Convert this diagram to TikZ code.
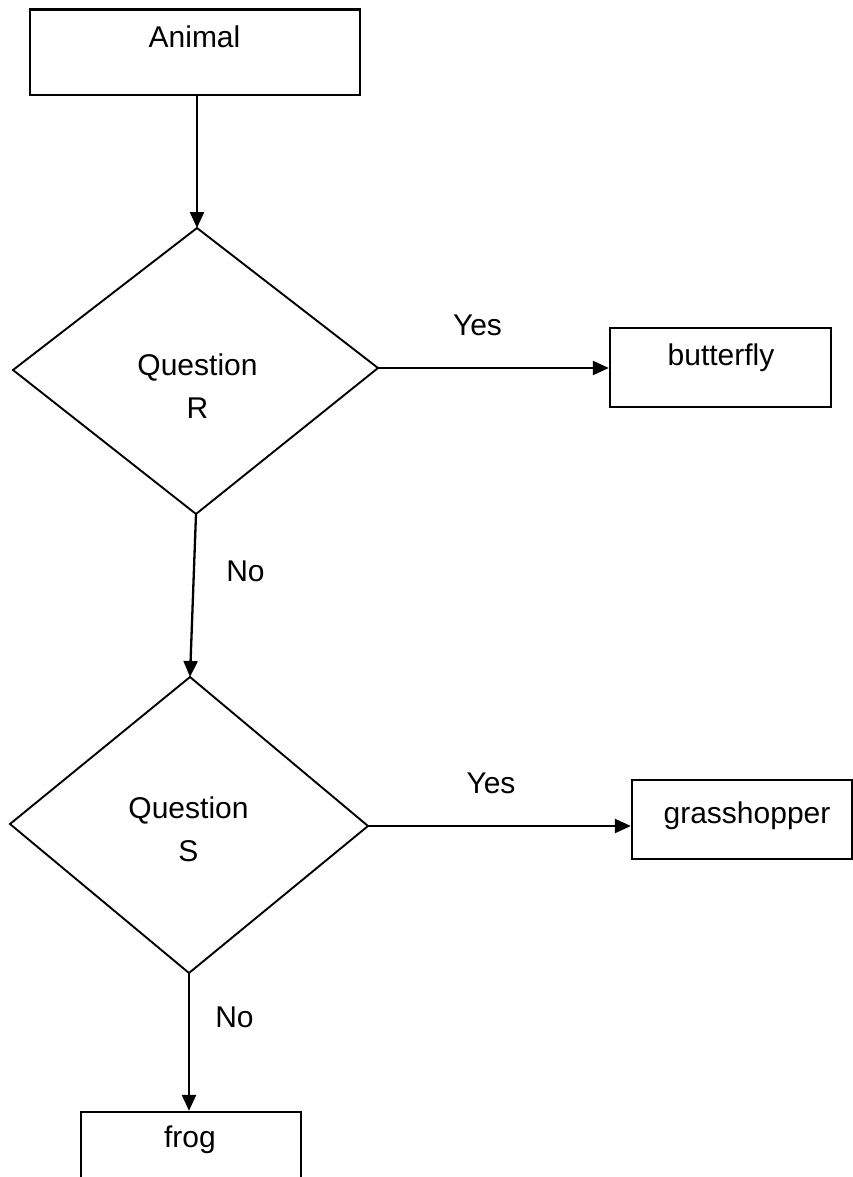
\documentclass[tikz,border=0pt]{standalone}
\usepackage{fontspec}
\setmainfont{Liberation Sans}
\usetikzlibrary{arrows.meta}
\begin{document}
\begin{tikzpicture}[x=1pt,y=-1pt,
  box/.style={draw, line width=2.3pt, inner sep=0pt, rectangle},
  lbl/.style={font=\fontsize{30}{36}\selectfont, inner sep=0pt, anchor=base},
  arr/.style={draw, line width=2.3pt, -{Triangle[length=16pt,width=14pt]}},
  dia/.style={draw, line width=1.9pt, line join=miter}]
\useasboundingbox (0,0) rectangle (853,1177);
\clip (0,0) rectangle (853,1177);
\fill[white] (0,0) rectangle (853,1177);

% boxes
\node[box, minimum width=330pt, minimum height=85.5pt] (animal) at (195,52.25) {};
\node[box, minimum width=221pt, minimum height=79pt] (butterfly) at (720.5,367.5) {};
\node[box, minimum width=220pt, minimum height=79pt] (grass) at (742,819.5) {};
\node[box, minimum width=220pt, minimum height=84pt] (frog) at (191,1154) {};

% diamond R
\coordinate (rT) at (197,228);
\coordinate (rR) at (378,368);
\coordinate (rB) at (196,514);
\coordinate (rL) at (13,370);
\draw[dia] (rT) -- (rR) -- (rB) -- (rL) -- cycle;

% diamond S
\coordinate (sT) at (190,677);
\coordinate (sR) at (368,826);
\coordinate (sB) at (189,973);
\coordinate (sL) at (10,824);
\draw[dia] (sT) -- (sR) -- (sB) -- (sL) -- cycle;

% texts
\node[lbl] (tAnimal) at (194.5,48) {Animal};
\node[lbl] (tButterfly) at (721,365) {butterfly};
\node[lbl] (tGrass) at (747,823) {grasshopper};
\node[lbl] (tFrog) at (190,1147) {frog};
\node[lbl] (qR1) at (197.5,375) {Question};
\node[lbl] (qR2) at (197.5,418) {R};
\node[lbl] (qS1) at (188.5,818) {Question};
\node[lbl] (qS2) at (188.5,861) {S};
\node[lbl] (yesR) at (477.5,335) {Yes};
\node[lbl] (noR) at (245.5,581) {No};
\node[lbl] (yesS) at (491,793) {Yes};
\node[lbl] (noS) at (234.5,1027) {No};

% connectors
\draw[arr] (animal.south -| rT) -- (rT);
\draw[arr] (rR) -- (rR -| butterfly.west);
\draw[arr] (rB) -- (sT);
\draw[arr] (sR) -- (sR -| grass.west);
\draw[arr] (sB) -- (sB |- frog.north);
\end{tikzpicture}
\end{document}
